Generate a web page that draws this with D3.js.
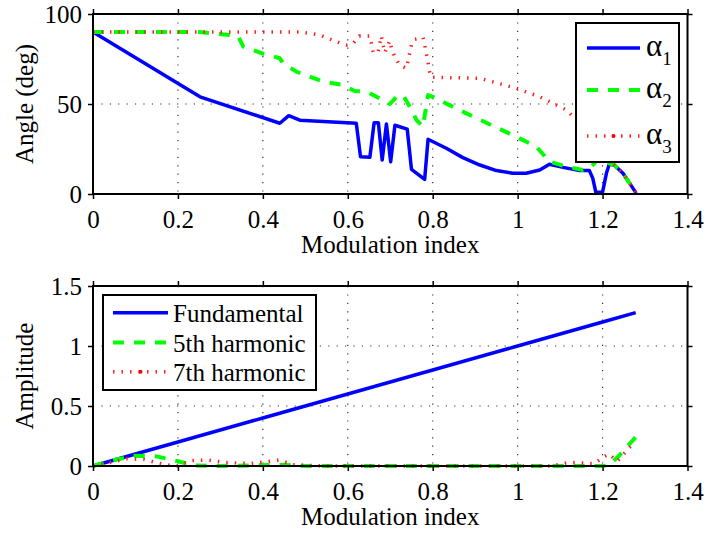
<!DOCTYPE html>
<html>
<head>
<meta charset="utf-8">
<script src="https://cdn.jsdelivr.net/npm/d3@7"></script>
<style>
  html, body { margin: 0; padding: 0; background: #fff; }
  svg { display: block; }
  text { font-family: "Liberation Serif", "Times New Roman", serif; fill: #000; }
</style>
</head>
<body>
<svg id="chart" width="708" height="535"></svg>
<script>
// Switching angles (deg) against modulation index: [m, angle]
const alpha1 = [[0,90],[0.252,54],[0.44,39.3],[0.461,43.5],[0.487,41],[0.62,39.3],[0.63,20.7],[0.652,20.4],[0.662,39.6],[0.672,39.6],[0.681,18.9],[0.691,38.9],[0.701,17.9],[0.711,38.2],[0.74,36],[0.75,13.7],[0.781,8.1],[0.789,30.4],[0.832,25.4],[0.871,20.2],[0.911,16.1],[0.95,13],[0.989,11.5],[1.02,11.5],[1.052,13.3],[1.075,16.5],[1.107,14.8],[1.146,13],[1.169,13],[1.177,8.7],[1.184,1],[1.2,1],[1.209,11.5],[1.216,16.7],[1.228,16],[1.248,11.5],[1.264,5.9],[1.279,0.5]];
const alpha2 = [[0,90],[0.25,90],[0.322,88.3],[0.342,87.5],[0.354,81.9],[0.4,78],[0.44,75.4],[0.448,72.6],[0.479,68],[0.542,62.4],[0.59,60.5],[0.616,57.2],[0.644,56.8],[0.683,52.2],[0.699,50],[0.715,54],[0.73,55],[0.746,48.5],[0.762,41],[0.777,37.4],[0.789,55],[0.8,54],[0.879,44.8],[0.997,31.8],[1.044,26.3],[1.075,18],[1.115,15.2],[1.154,13.3],[1.169,14.3],[1.177,16.1],[1.19,19.5],[1.205,19.5],[1.216,17],[1.228,16],[1.248,11.5],[1.264,5.9],[1.279,0.5]];
const alpha3 = [[0,90],[0.49,90],[0.534,88.3],[0.573,84.6],[0.597,82.8],[0.612,83.5],[0.627,87.8],[0.652,87.8],[0.656,83.2],[0.66,78.5],[0.671,78.5],[0.679,87.8],[0.683,83.2],[0.687,78.5],[0.699,85.2],[0.703,81],[0.711,76],[0.722,71.7],[0.738,69.8],[0.742,74],[0.746,78.5],[0.75,83],[0.758,86],[0.777,87],[0.781,83],[0.785,78],[0.789,73],[0.791,69.8],[0.795,65],[0.807,64.8],[0.911,64.3],[0.997,58.7],[1.052,54],[1.115,46.7],[1.16,36],[1.2,24],[1.216,17],[1.228,16],[1.248,11.5],[1.264,5.9],[1.279,0.5]];

// Harmonic amplitudes against modulation index: [m, amplitude]
const fundamental = [[0,0],[0.2,0.2],[0.4,0.4],[0.6,0.6],[0.8,0.8],[1.0,1.0],[1.2,1.2],[1.278,1.278]];
const harmonic5 = [[0,0],[0.05,0.05],[0.1,0.085],[0.15,0.08],[0.2,0.04],[0.24,0.005],[0.3,0],[0.45,0.01],[0.5,0],[1.2,0],[1.215,0.005],[1.24,0.09],[1.26,0.17],[1.278,0.24]];
const harmonic7 = [[0,0],[0.08,0.06],[0.12,0.055],[0.17,0.01],[0.2,0],[0.23,0.045],[0.27,0.05],[0.31,0.03],[0.37,0.02],[0.44,0.05],[0.47,0.01],[0.55,0],[1.08,0],[1.12,0.03],[1.18,0.02],[1.205,0.08],[1.215,0.1],[1.235,0.04],[1.25,0.1],[1.265,0.16],[1.278,0.2]];

const xTicks = [0, 0.2, 0.4, 0.6, 0.8, 1, 1.2, 1.4];
const angleTicks = [0, 50, 100];
const ampTicks = [0, 0.5, 1, 1.5];
const xLabel = "Modulation index";

const svg = d3.select("#chart");
const FONT = 25;
const SERIF = '"Liberation Serif", "Times New Roman", serif';

const styles = {
  blue:  { stroke: "#0000ff", width: 3.5, dash: null },
  green: { stroke: "#00ff00", width: 4,   dash: "11,10" },
  red:   { stroke: "#ff2020", width: 3.5, dash: "1.5,7" }
};

function panel(cfg) {
  const x = d3.scaleLinear().domain([0, 1.4]).range([93, 687.5]);
  const y = d3.scaleLinear().domain(cfg.yDomain).range([cfg.bottom, cfg.top]);
  const g = svg.append("g");

  // dotted grid
  const gx = xTicks.filter(t => t > 0 && t < 1.4);
  const gy = cfg.yTicks.filter(t => t > cfg.yDomain[0] && t < cfg.yDomain[1]);
  g.selectAll(".vg").data(gx).join("line")
    .attr("x1", d => x(d)).attr("x2", d => x(d))
    .attr("y1", cfg.top).attr("y2", cfg.bottom)
    .attr("stroke", "#333").attr("stroke-width", 1.2).attr("stroke-dasharray", "1.2,7.2");
  g.selectAll(".hg").data(gy).join("line")
    .attr("x1", 93).attr("x2", 687.5)
    .attr("y1", d => y(d)).attr("y2", d => y(d))
    .attr("stroke", "#333").attr("stroke-width", 1.2).attr("stroke-dasharray", "1.2,7.2");

  // series
  const line = d3.line().x(d => x(d[0])).y(d => y(d[1]));
  cfg.series.forEach(s => {
    const st = styles[s.style];
    g.append("path").datum(s.data).attr("d", line)
      .attr("fill", "none").attr("stroke", st.stroke)
      .attr("stroke-width", st.width)
      .attr("stroke-linejoin", "round")
      .attr("stroke-dasharray", st.dash);
  });

  // axes with outward ticks on all four sides
  const bottomAxis = d3.axisBottom(x).tickValues(xTicks).tickSize(5).tickSizeOuter(0).tickPadding(11)
    .tickFormat(d3.format("~g"));
  const topAxis = d3.axisTop(x).tickValues(xTicks).tickSize(5).tickSizeOuter(0).tickFormat("");
  const leftAxis = d3.axisLeft(y).tickValues(cfg.yTicks).tickSize(5).tickSizeOuter(0).tickPadding(6)
    .tickFormat(d3.format("~g"));
  const rightAxis = d3.axisRight(y).tickValues(cfg.yTicks).tickSize(5).tickSizeOuter(0).tickFormat("");

  const axes = [
    [bottomAxis, `translate(0,${cfg.bottom})`],
    [topAxis, `translate(0,${cfg.top})`],
    [leftAxis, `translate(93,0)`],
    [rightAxis, `translate(687.5,0)`]
  ];
  axes.forEach(([ax, tr]) => {
    const a = g.append("g").attr("transform", tr).call(ax);
    a.select(".domain").remove();
    a.selectAll("line").attr("stroke", "#000").attr("stroke-width", 1.5);
    a.selectAll("text").attr("font-size", FONT).style("font-family", SERIF).attr("fill", "#000");
  });

  g.append("rect").attr("x", 93).attr("y", cfg.top)
    .attr("width", 687.5 - 93).attr("height", cfg.bottom - cfg.top)
    .attr("fill", "none").attr("stroke", "#000").attr("stroke-width", 2);

  // axis titles
  g.append("text").attr("x", (93 + 687.5) / 2).attr("y", cfg.bottom + 59)
    .attr("text-anchor", "middle").attr("font-size", FONT).style("font-family", SERIF).text(xLabel);
  g.append("text").attr("transform", `translate(33,${(cfg.top + cfg.bottom) / 2}) rotate(-90)`)
    .attr("text-anchor", "middle").attr("font-size", FONT).style("font-family", SERIF).text(cfg.yLabel);

  return { g, x, y };
}

function legendSample(g, style, x1, x2, yy) {
  const st = styles[style];
  g.append("line").attr("x1", x1).attr("x2", x2).attr("y1", yy).attr("y2", yy)
    .attr("stroke", st.stroke).attr("stroke-width", st.width).attr("stroke-dasharray", st.dash);
  if (style === "red") {
    g.append("circle").attr("cx", (x1 + x2) / 2).attr("cy", yy).attr("r", 2).attr("fill", "#ff0000");
  }
}

// Upper panel: switching angles
const anglePanel = panel({
  top: 14, bottom: 194, yDomain: [0, 100], yTicks: angleTicks, yLabel: "Angle (deg)",
  series: [
    { data: alpha1, style: "blue" },
    { data: alpha2, style: "green" },
    { data: alpha3, style: "red" }
  ]
});
{
  const lg = anglePanel.g.append("g");
  lg.append("rect").attr("x", 576).attr("y", 23).attr("width", 103).attr("height", 139)
    .attr("fill", "#fff").attr("stroke", "#000").attr("stroke-width", 2);
  const entries = [["blue", "1", 48], ["green", "2", 90], ["red", "3", 136]];
  entries.forEach(([st, sub, yy]) => {
    legendSample(lg, st, 587, 640, yy);
    const t = lg.append("text").attr("x", 646).attr("y", yy + 8).attr("font-size", 31).style("font-family", SERIF);
    t.append("tspan").text("α");
    t.append("tspan").attr("dy", 9).attr("font-size", 19).text(sub);
  });
}

// Lower panel: harmonic amplitudes
const ampPanel = panel({
  top: 286, bottom: 466, yDomain: [0, 1.5], yTicks: ampTicks, yLabel: "Amplitude",
  series: [
    { data: fundamental, style: "blue" },
    { data: harmonic5, style: "green" },
    { data: harmonic7, style: "red" }
  ]
});
{
  const lg = ampPanel.g.append("g");
  lg.append("rect").attr("x", 103).attr("y", 295).attr("width", 213).attr("height", 95)
    .attr("fill", "#fff").attr("stroke", "#000").attr("stroke-width", 2);
  const entries = [["blue", "Fundamental", 312.7], ["green", "5th harmonic", 342.5], ["red", "7th harmonic", 371.7]];
  entries.forEach(([st, label, yy]) => {
    legendSample(lg, st, 113, 168, yy);
    lg.append("text").attr("x", 173).attr("y", yy + 9).attr("font-size", FONT).style("font-family", SERIF).text(label);
  });
}
</script>
</body>
</html>
